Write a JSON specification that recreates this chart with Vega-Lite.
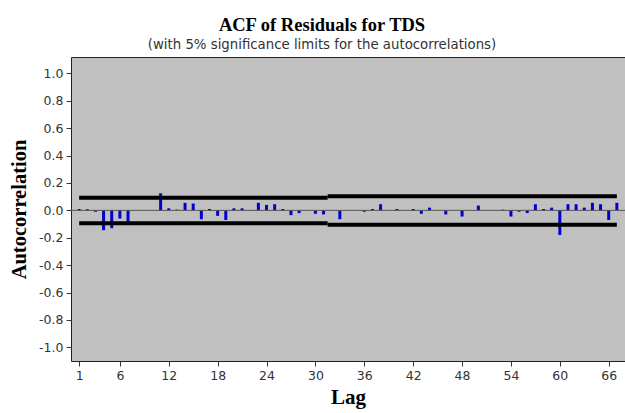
{
  "$schema": "https://vega.github.io/schema/vega-lite/v6.json",
  "width": 554,
  "height": 304,
  "autosize": {"type": "none"},
  "padding": {"left": 71, "top": 57, "right": 0, "bottom": 52},
  "background": "white",
  "title": {
    "text": "ACF of Residuals for TDS",
    "subtitle": "(with 5% significance limits for the autocorrelations)",
    "font": "Liberation Serif",
    "fontSize": 18.5,
    "fontWeight": "bold",
    "color": "#000000",
    "subtitleFont": "DejaVu Sans",
    "subtitleFontSize": 13.3,
    "subtitleColor": "#333333",
    "subtitlePadding": 3,
    "anchor": "middle",
    "dx": -26,
    "offset": 6
  },
  "config": {
    "view": {"fill": "#c0c0c0", "stroke": "#222222", "strokeWidth": 1}
  },
  "datasets": {
    "acf": [
      {"lag": 1, "acf": 0.01}, {"lag": 2, "acf": 0.008}, {"lag": 3, "acf": -0.01},
      {"lag": 4, "acf": -0.145}, {"lag": 5, "acf": -0.13}, {"lag": 6, "acf": -0.06},
      {"lag": 7, "acf": -0.09}, {"lag": 8, "acf": 0.0}, {"lag": 9, "acf": 0.0},
      {"lag": 10, "acf": 0.0}, {"lag": 11, "acf": 0.125}, {"lag": 12, "acf": 0.015},
      {"lag": 13, "acf": 0.005}, {"lag": 14, "acf": 0.055}, {"lag": 15, "acf": 0.05},
      {"lag": 16, "acf": -0.065}, {"lag": 17, "acf": 0.01}, {"lag": 18, "acf": -0.04},
      {"lag": 19, "acf": -0.07}, {"lag": 20, "acf": 0.015}, {"lag": 21, "acf": 0.015},
      {"lag": 22, "acf": -0.003}, {"lag": 23, "acf": 0.055}, {"lag": 24, "acf": 0.04},
      {"lag": 25, "acf": 0.045}, {"lag": 26, "acf": 0.01}, {"lag": 27, "acf": -0.035},
      {"lag": 28, "acf": -0.02}, {"lag": 29, "acf": 0.0}, {"lag": 30, "acf": -0.025},
      {"lag": 31, "acf": -0.03}, {"lag": 32, "acf": 0.0}, {"lag": 33, "acf": -0.065},
      {"lag": 34, "acf": 0.0}, {"lag": 35, "acf": 0.0}, {"lag": 36, "acf": -0.01},
      {"lag": 37, "acf": 0.01}, {"lag": 38, "acf": 0.045}, {"lag": 39, "acf": 0.0},
      {"lag": 40, "acf": 0.01}, {"lag": 41, "acf": 0.0}, {"lag": 42, "acf": 0.01},
      {"lag": 43, "acf": -0.025}, {"lag": 44, "acf": 0.02}, {"lag": 45, "acf": 0.0},
      {"lag": 46, "acf": -0.03}, {"lag": 47, "acf": 0.0}, {"lag": 48, "acf": -0.045},
      {"lag": 49, "acf": 0.0}, {"lag": 50, "acf": 0.035}, {"lag": 51, "acf": 0.0},
      {"lag": 52, "acf": 0.0}, {"lag": 53, "acf": 0.005}, {"lag": 54, "acf": -0.045},
      {"lag": 55, "acf": -0.01}, {"lag": 56, "acf": -0.02}, {"lag": 57, "acf": 0.045},
      {"lag": 58, "acf": 0.01}, {"lag": 59, "acf": 0.02}, {"lag": 60, "acf": -0.18},
      {"lag": 61, "acf": 0.045}, {"lag": 62, "acf": 0.045}, {"lag": 63, "acf": 0.02},
      {"lag": 64, "acf": 0.055}, {"lag": 65, "acf": 0.045}, {"lag": 66, "acf": -0.07},
      {"lag": 67, "acf": 0.055}
    ],
    "limits": [
      {"lag": 1, "lag2": 31.5, "lim": 0.093},
      {"lag": 1, "lag2": 31.5, "lim": -0.094},
      {"lag": 31.5, "lag2": 67, "lim": 0.104},
      {"lag": 31.5, "lag2": 67, "lim": -0.105}
    ]
  },
  "resolve": {"scale": {"y": "shared", "x": "shared"}},
  "encoding": {
    "x": {
      "field": "lag",
      "type": "quantitative",
      "scale": {"domain": [0, 68], "nice": false, "zero": false},
      "axis": {
        "values": [1, 6, 12, 18, 24, 30, 36, 42, 48, 54, 60, 66],
        "title": "Lag",
        "titleFont": "Liberation Serif",
        "titleFontSize": 21,
        "titleFontWeight": "bold",
        "titleColor": "#000000",
        "titlePadding": 5,
        "labelFont": "DejaVu Sans",
        "labelFontSize": 12.5,
        "labelColor": "#333333",
        "labelPadding": 3,
        "labelOverlap": false,
        "tickSize": 5,
        "tickColor": "#333333",
        "domain": false,
        "grid": false
      }
    },
    "y": {
      "field": "acf",
      "type": "quantitative",
      "scale": {"domain": [-1.1, 1.12], "nice": false, "zero": false},
      "axis": {
        "values": [-1, -0.8, -0.6, -0.4, -0.2, 0, 0.2, 0.4, 0.6, 0.8, 1],
        "tickCount": 11,
        "labelExpr": "datum.value < -0.001 ? '-' + format(-datum.value, '.1f') : format(abs(datum.value), '.1f')",
        "title": "Autocorrelation",
        "titleFont": "Liberation Serif",
        "titleFontSize": 20.5,
        "titleFontWeight": "bold",
        "titleColor": "#000000",
        "titlePadding": 9,
        "labelFont": "DejaVu Sans",
        "labelFontSize": 12.5,
        "labelColor": "#333333",
        "labelPadding": 3,
        "labelOverlap": false,
        "labelBound": false,
        "labelFlush": false,
        "tickSize": 5,
        "tickColor": "#333333",
        "domain": false,
        "grid": false
      }
    }
  },
  "layer": [
    {
      "data": {"name": "acf"},
      "mark": {"type": "rule", "color": "#0000d0", "strokeWidth": 3},
      "encoding": {
        "y2": {"datum": 0}
      }
    },
    {
      "data": {"values": [{"acf": 0}]},
      "mark": {"type": "rule", "color": "#555555", "strokeWidth": 1},
      "encoding": {"x": null}
    },
    {
      "data": {"name": "limits"},
      "mark": {"type": "rule", "color": "#000000", "strokeWidth": 4, "strokeCap": "butt"},
      "encoding": {
        "x2": {"field": "lag2"},
        "y": {"field": "lim", "type": "quantitative"}
      }
    }
  ]
}
